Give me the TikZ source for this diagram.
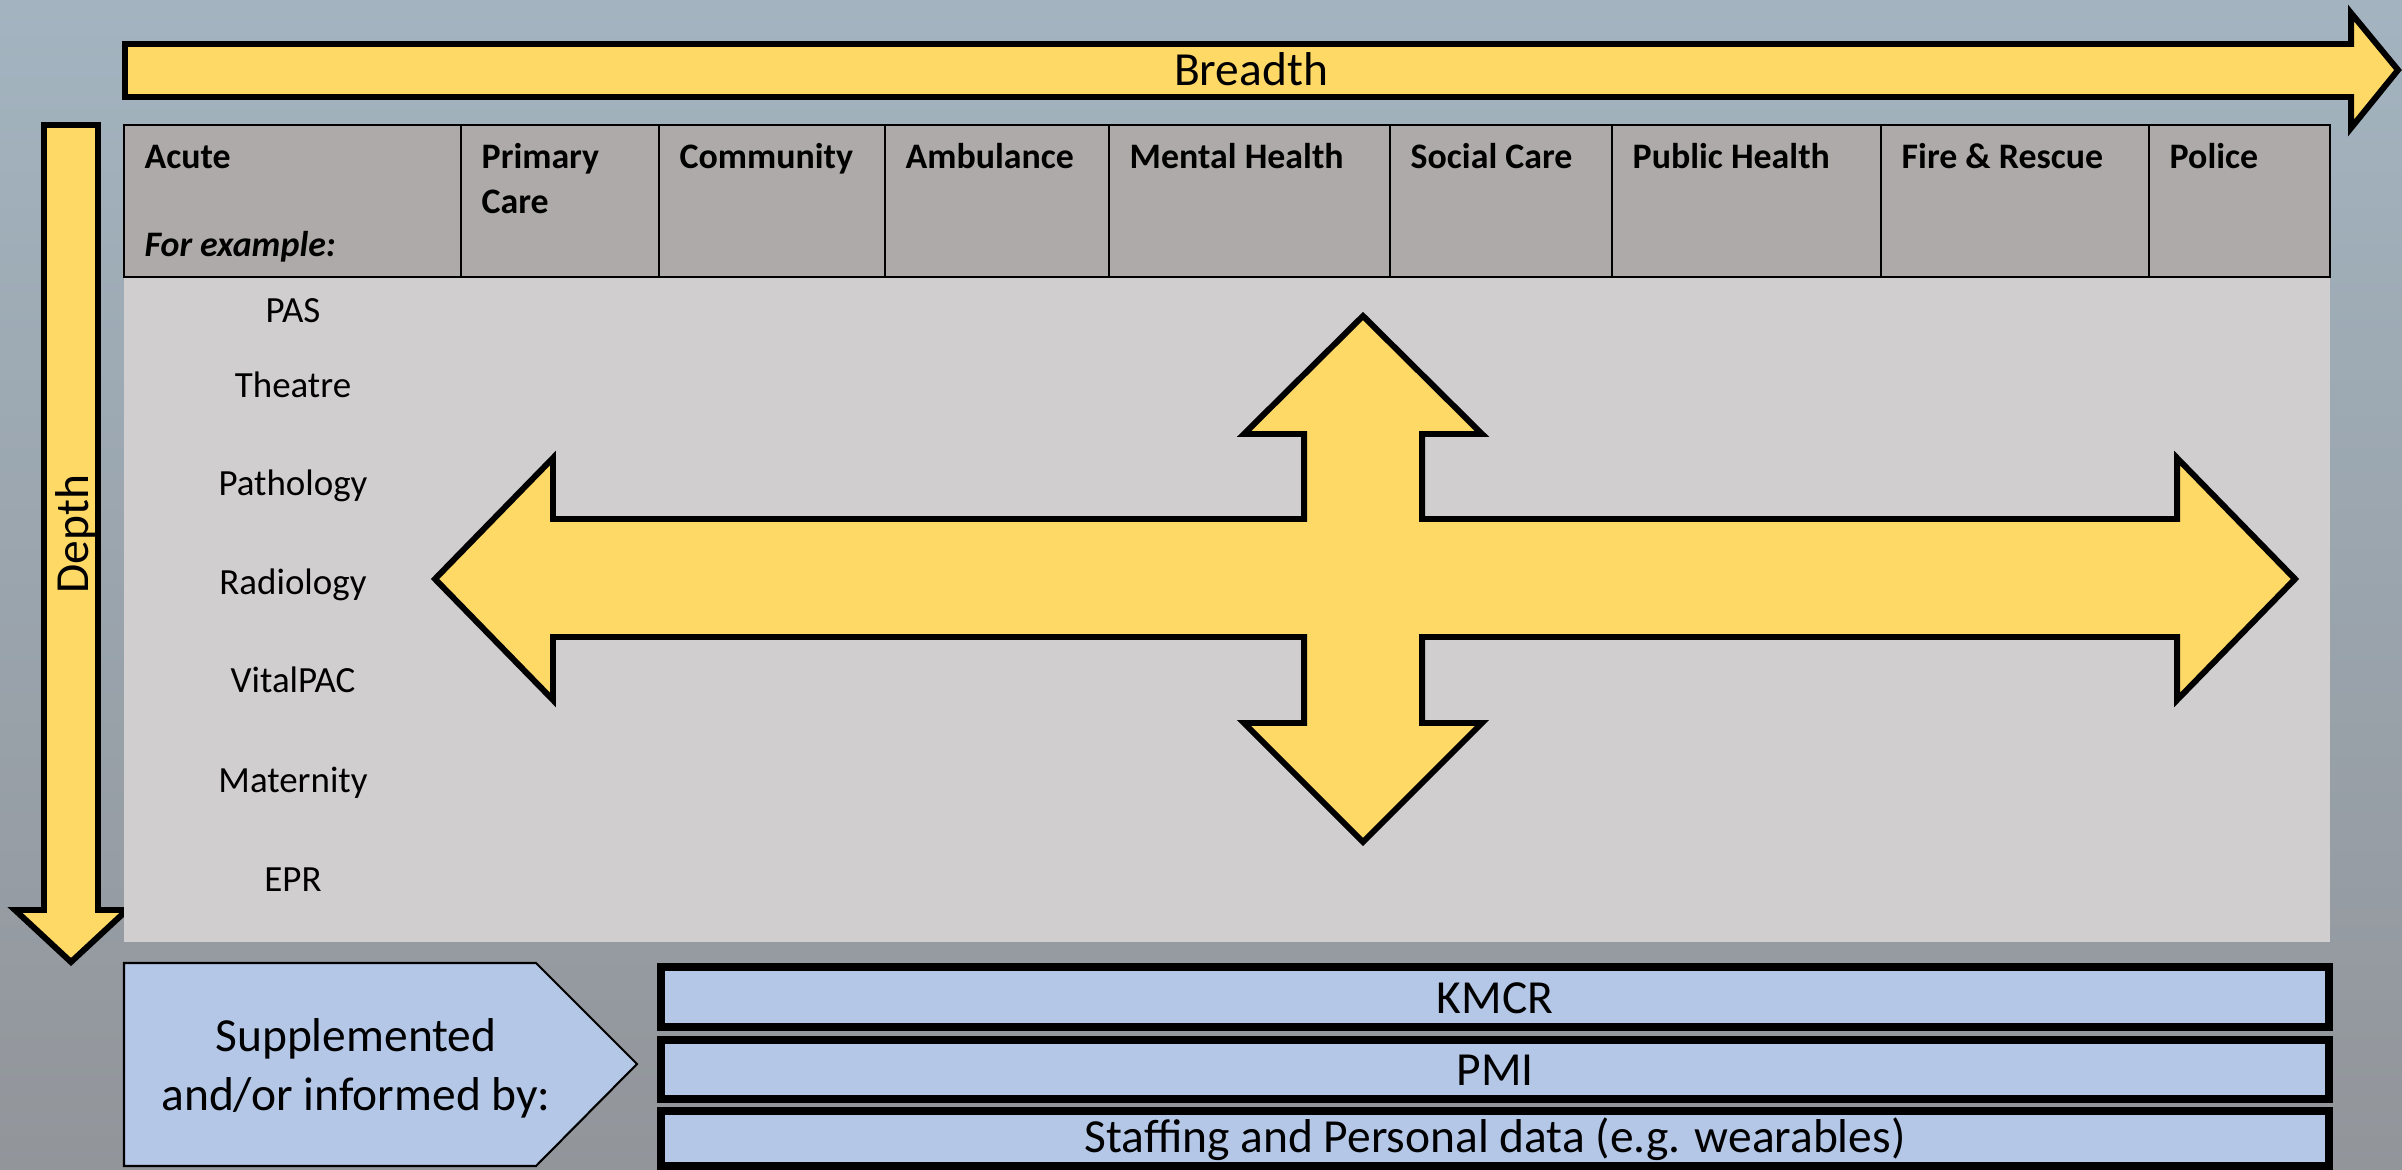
\documentclass[tikz,border=0pt]{standalone}
\usepackage{fontspec}
\setmainfont{Carlito}
\definecolor{gold}{HTML}{FFD966}
\definecolor{paleblue}{HTML}{B4C7E7}
\definecolor{hdrgray}{HTML}{AEAAAA}
\definecolor{bodygray}{HTML}{D0CECE}
\definecolor{skytop}{RGB}{163,180,192}
\definecolor{skybot}{RGB}{146,149,154}

\begin{document}
\begin{tikzpicture}[x=0.01cm,y=-0.01cm,
		bigarrow/.style={fill=gold,draw=black,line width=1.7pt,line join=miter},
		tabline/.style={draw=black,line width=0.8pt},
		hdr/.style={anchor=base west,inner sep=0,align=left,font=\fontsize{10.2}{12.8}\selectfont\bfseries},
		rowlbl/.style={anchor=base,inner sep=0,font=\fontsize{10.5}{12.6}\selectfont},
		bigtxt/.style={anchor=base,inner sep=0,align=center,font=\fontsize{13.5}{16.5}\selectfont},
		databar/.style={fill=paleblue,draw=black,line width=2.3pt}]
		\useasboundingbox (0,0) rectangle (2402,1170);
		\shade[top color=skytop,bottom color=skybot] (0,0) rectangle (2402,1170);

		% breadth and depth
		\draw[bigarrow] (125,44) -- (2351,44) -- (2351,13) -- (2398,70) -- (2351,128) -- (2351,97) -- (125,97) -- cycle;
		\node[bigtxt] (breadth) at (1251,86) {Breadth};
		\draw[bigarrow] (44,125) -- (98,125) -- (98,910) -- (127,910) -- (71,962) -- (15,910) -- (44,910) -- cycle;
		\node[bigtxt,rotate=90] (depth) at (88,534) {Depth};

		% table
		\fill[bodygray] (124,277) rectangle (2330,942);
		\filldraw[fill=hdrgray,tabline] (124,125) rectangle (2330,277);
		\foreach \x in {461,659,885,1109,1390,1612,1881,2149}
			\draw[tabline] (\x,125) -- (\x,277);
		\foreach \x/\hname/\htext in {144/acute/Acute, 679/community/Community,
				905/ambulance/Ambulance, 1129/mental/Mental Health, 1410/social/Social Care,
				1632/public/Public Health, 1901/fire/Fire \& Rescue, 2169/police/Police}
			\node[hdr] (\hname) at (\x,169) {\htext};
		\node[hdr] (primary) at (481,214) {Primary\\Care};
		\node[hdr] (example) at (144,257) {\itshape For example:};
		\foreach \y/\rname/\rtext in {323/pas/PAS, 397/theatre/Theatre, 495/pathology/Pathology,
				594/radiology/Radiology, 692/vitalpac/VitalPAC, 792/maternity/Maternity, 891/epr/EPR}
			\node[rowlbl] (\rname) at (293,\y) {\rtext};

		% cross
		\draw[bigarrow] (435,579) -- (553,458) -- (553,519) -- (1304,519) -- (1304,434) -- (1244,434)
			-- (1363,316) -- (1482,434) -- (1422,434) -- (1422,519) -- (2177,519) -- (2177,458)
			-- (2295,579) -- (2177,700) -- (2177,637) -- (1422,637) -- (1422,723) -- (1482,723)
			-- (1363,842) -- (1244,723) -- (1304,723) -- (1304,637) -- (553,637) -- (553,700) -- cycle;

		% sources
		\draw[fill=paleblue,line width=0.6pt] (124,963) -- (536,963) -- (637,1064) -- (536,1166) -- (124,1166) -- cycle;
		\node[bigtxt] (supp) at (356,1110) {Supplemented\\and/or informed by:};
		\foreach \ya/\yb/\yt/\bname/\btext in {967/1027/1013/kmcr/KMCR, 1040/1099/1085/pmi/PMI,
				1111/1166/1152/staff/Staffing and Personal data (e.g. wearables)} {
			\draw[databar] (661,\ya) rectangle (2329,\yb);
			\node[bigtxt] (\bname) at (1495,\yt) {\btext};
		}
	\end{tikzpicture}
\end{document}
